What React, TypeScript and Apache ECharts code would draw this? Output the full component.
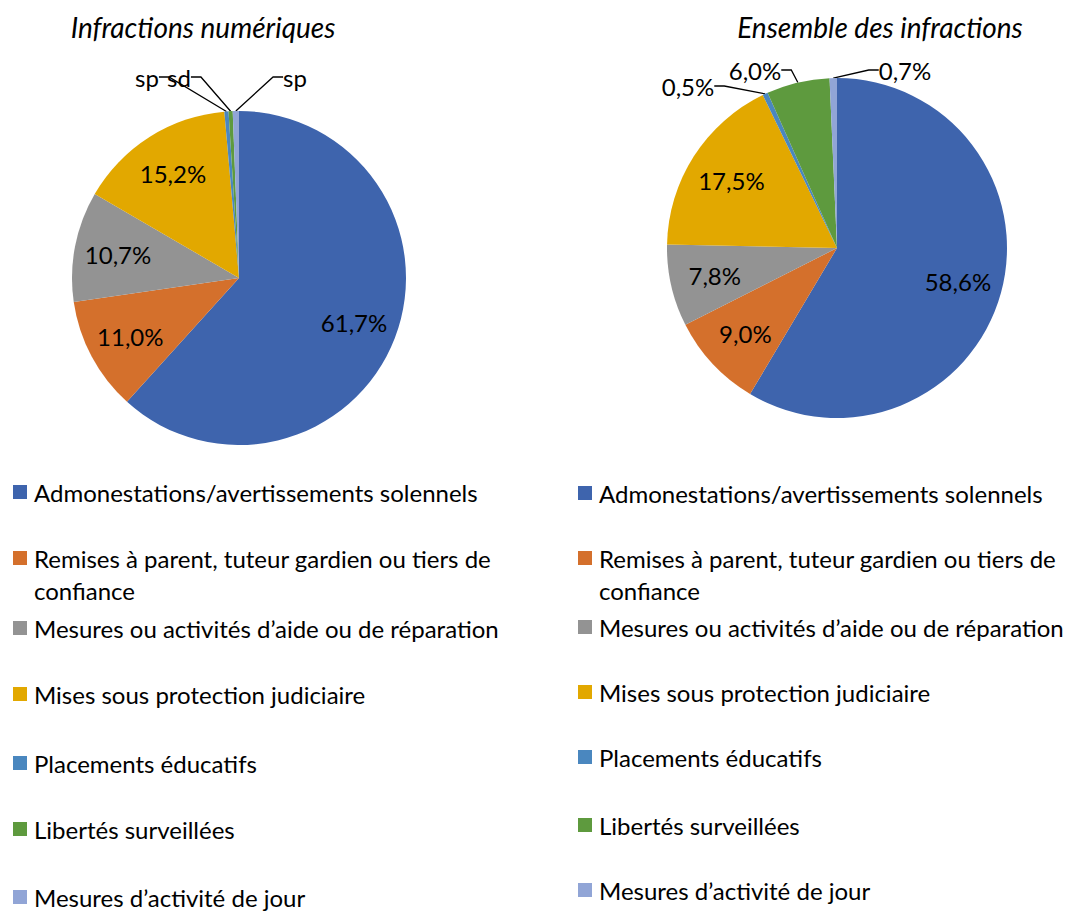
import React, { useEffect, useRef } from "react";
import * as echarts from "echarts";

const categories = [
  "Admonestations/avertissements solennels",
  "Remises à parent, tuteur gardien ou tiers de confiance",
  "Mesures ou activités d’aide ou de réparation",
  "Mises sous protection judiciaire",
  "Placements éducatifs",
  "Libertés surveillées",
  "Mesures d’activité de jour",
];
const numeriqueValues = [61.7, 11.0, 10.7, 15.2, 0.4, 0.4, 0.6];
const numeriqueLabels = ["61,7%", "11,0%", "10,7%", "15,2%", "sp", "sd", "sp"];
const ensembleValues = [58.6, 9.0, 7.8, 17.5, 0.5, 6.0, 0.7];
const ensembleLabels = ["58,6%", "9,0%", "7,8%", "17,5%", "0,5%", "6,0%", "0,7%"];
const titles = ["Infractions numériques", "Ensemble des infractions"];

const colors = ["#3E64AD", "#D4702C", "#939393", "#E2A800", "#4A87BF", "#5E9A3E", "#91A5D6"];
const FONT = "Lato";

// layout
const pies = [
  { cx: 239, cy: 278, r: 167, values: numeriqueValues, labels: numeriqueLabels,
    outside: { 4: [-92, -201], 5: [-60, -201], 6: [56, -201] } as Record<number, number[]> },
  { cx: 837, cy: 248, r: 170, values: ensembleValues, labels: ensembleLabels,
    outside: { 4: [-149, -162], 5: [-82, -178], 6: [68, -178] } as Record<number, number[]> },
];
const legendLayouts = [
  { x: 13, rows: [492, 558, 628, 694, 763, 829, 897], width: 520 },
  { x: 578, rows: [493, 558, 627, 692, 757, 825, 890], width: 520 },
];

export default function App() {
  const ref = useRef<HTMLDivElement>(null);
  useEffect(() => {
    document.body.style.margin = "0";
    const chart = echarts.init(ref.current!, undefined, { renderer: "svg" });
    const series: any[] = [];
    pies.forEach((p, pi) => {
      series.push({
        type: "pie",
        silent: true,
        center: [p.cx, p.cy],
        radius: [0, p.r],
        startAngle: 90,
        clockwise: true,
        label: { show: false },
        labelLine: { show: false },
        itemStyle: { borderWidth: 0 },
        data: categories.map((c, i) => ({ name: c, value: p.values[i], itemStyle: { color: colors[i] } })),
      });
      series.push({
        type: "pie",
        silent: true,
        center: [p.cx, p.cy],
        radius: [p.r * 0.44, p.r],
        startAngle: 90,
        clockwise: true,
        itemStyle: { color: "rgba(0,0,0,0)", borderWidth: 0 },
        label: {
          show: true,
          position: "inside",
          color: "#000",
          fontFamily: FONT,
          fontSize: 24,
          formatter: (prm: any) => p.labels[prm.dataIndex],
        },
        labelLine: { show: false },
        labelLayout: (prm: any) => {
          const o = p.outside[prm.dataIndex];
          if (!o) return {};
          return { x: p.cx + o[0], y: p.cy + o[1], align: "center", verticalAlign: "middle" };
        },
        data: categories.map((c, i) => {
          const isOut = p.outside[i] != null;
          return {
            name: c + " " + pi,
            value: p.values[i],
            label: isOut ? { position: "outside" } : undefined,
            labelLine: isOut
              ? { show: true, length: 10, length2: 10, lineStyle: { color: "#000", width: 1.3 } }
              : undefined,
          };
        }),
      });
    });

    const graphic: any[] = [];
    legendLayouts.forEach((lg) => {
      categories.forEach((c, i) => {
        const cy = lg.rows[i];
        graphic.push({
          type: "rect",
          shape: { x: lg.x, y: cy - 7, width: 14, height: 14 },
          style: { fill: colors[i] },
        });
        graphic.push({
          type: "text",
          x: lg.x + 21,
          y: cy - 16,
          style: {
            text: c,
            fill: "#000",
            font: `24px ${FONT}`,
            lineHeight: 32,
            width: lg.width,
            overflow: "break",
            verticalAlign: "top",
          },
        });
      });
    });

    const titleStyle = { fontStyle: "italic", fontWeight: "normal", fontSize: 28, fontFamily: FONT, color: "#000" };
    chart.setOption({
      animation: false,
      backgroundColor: "#fff",
      title: [
        { text: titles[0], left: 198, top: 8, textAlign: "center", textStyle: titleStyle },
        { text: titles[1], left: 875, top: 8, textAlign: "center", textStyle: titleStyle },
      ],
      series,
      graphic,
    });
    return () => chart.dispose();
  }, []);
  return <div ref={ref} style={{ width: 1085, height: 911 }} />;
}
